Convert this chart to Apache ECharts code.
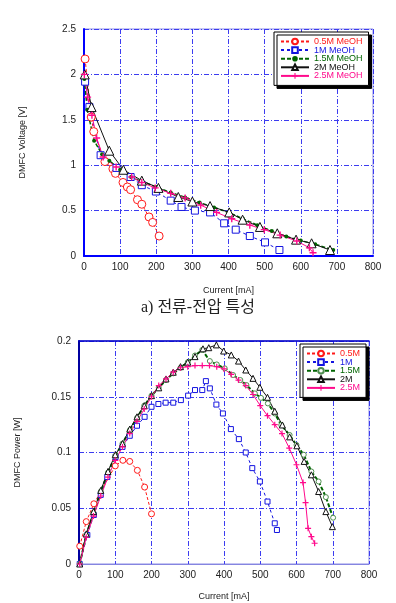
<!DOCTYPE html>
<html>
<head>
<meta charset="utf-8">
<script src="https://cdn.jsdelivr.net/npm/echarts@6/dist/echarts.min.js"></script>
<style>html,body{margin:0;padding:0;background:#fff;}#c{width:396px;height:603px;}</style>
</head>
<body>
<div id="c"></div>
<script>
// ---- Tick settings ----
const xTicks = { min: 0, max: 800, interval: 100 };
const vTicks = { min: 0, max: 2.5, interval: 0.5 };
const pTicks = { min: 0, max: 0.2, interval: 0.05 };

// ---- Names ----
const seriesNamesV = ['0.5M MeOH', '1M MeOH', '1.5M MeOH', '2M MeOH', '2.5M MeOH'];
const seriesNamesP = ['0.5M', '1M', '1.5M', '2M', '2.5M'];

// ---- (a) Current [mA] vs DMFC Voltage [V] ----
const iv05 = [[3,2.17],[20,1.53],[27,1.37],[58,1.04],[80,0.96],[87,0.91],[108,0.81],[120,0.76],[129,0.73],[148,0.62],[160,0.57],[180,0.43],[190,0.37],[208,0.22]];
const iv1  = [[3,1.92],[15,1.64],[46,1.11],[90,0.97],[129,0.87],[160,0.78],[199,0.71],[240,0.61],[270,0.54],[307,0.50],[349,0.48],[388,0.36],[420,0.29],[459,0.22],[501,0.15],[541,0.066]];
const iv15 = [[1,1.95],[9,1.61],[28,1.27],[50,1.12],[70,1.05],[100,0.95],[130,0.87],[160,0.82],[200,0.76],[240,0.70],[280,0.645],[320,0.59],[360,0.535],[400,0.48],[440,0.41],[480,0.34],[520,0.275],[560,0.215],[600,0.17],[640,0.13],[690,0.065]];
const iv2  = [[2,2.0],[21,1.64],[70,1.16],[109,0.95],[160,0.83],[206,0.75],[261,0.65],[300,0.60],[349,0.55],[402,0.48],[439,0.40],[487,0.32],[535,0.25],[587,0.18],[630,0.14],[681,0.066]];
const iv25 = [[1,2.0],[10,1.75],[22,1.55],[35,1.3],[53,1.09],[89,0.98],[132,0.87],[160,0.81],[197,0.75],[240,0.69],[280,0.64],[323,0.56],[367,0.48],[409,0.41],[459,0.34],[499,0.29],[543,0.23],[589,0.165],[624,0.09],[634,0.035]];

// ---- (b) Current [mA] vs DMFC Power [W] ----
const p05 = [[2,0.016],[20,0.038],[41,0.054],[100,0.088],[121,0.093],[140,0.092],[161,0.084],[181,0.069],[200,0.045]];
const p1  = [[2,0],[23,0.026],[41,0.044],[60,0.062],[78,0.078],[101,0.096],[120,0.105],[140,0.115],[160,0.124],[181,0.132],[200,0.141],[219,0.1435],[239,0.1447],[260,0.1447],[281,0.147],[301,0.151],[320,0.156],[340,0.156],[350,0.164],[361,0.1575],[379,0.143],[397,0.135],[419,0.121],[441,0.112],[460,0.100],[478,0.086],[499,0.074],[520,0.056],[540,0.0365],[546,0.0305]];
const p15 = [[2,0],[20,0.026],[40,0.046],[60,0.065],[80,0.082],[100,0.097],[120,0.108],[140,0.12],[160,0.131],[180,0.142],[200,0.151],[220,0.158],[240,0.165],[260,0.171],[280,0.176],[300,0.181],[320,0.187],[340,0.192],[361,0.182],[380,0.179],[402,0.1755],[425,0.1695],[445,0.165],[462,0.1605],[485,0.153],[502,0.149],[521,0.144],[540,0.135],[558,0.1247],[581,0.1157],[600,0.1067],[620,0.098],[641,0.083],[661,0.074],[681,0.060],[701,0.0415]];
const p2  = [[2,0],[20,0.027],[40,0.047],[60,0.066],[80,0.083],[100,0.098],[120,0.108],[140,0.121],[160,0.132],[180,0.142],[200,0.151],[220,0.158],[240,0.166],[260,0.172],[280,0.177],[300,0.181],[320,0.186],[342,0.193],[358,0.194],[379,0.1965],[399,0.191],[420,0.1875],[440,0.182],[460,0.174],[480,0.1665],[499,0.1585],[520,0.1495],[540,0.137],[561,0.1247],[581,0.114],[601,0.106],[621,0.092],[641,0.080],[661,0.065],[681,0.047],[699,0.0335]];
const p25 = [[2,0],[20,0.024],[40,0.043],[60,0.061],[80,0.078],[100,0.093],[120,0.105],[140,0.117],[160,0.128],[180,0.139],[200,0.150],[220,0.160],[240,0.166],[260,0.172],[280,0.176],[300,0.177],[320,0.178],[340,0.178],[360,0.178],[380,0.177],[400,0.175],[420,0.170],[440,0.165],[460,0.160],[480,0.152],[500,0.142],[520,0.133],[540,0.125],[560,0.117],[580,0.104],[600,0.089],[618,0.073],[625,0.055],[632,0.032],[641,0.0245],[650,0.0186]];

const caption = 'a) 전류-전압 특성';

// ---- styles ----
const RED = '#ff1a1a', BLUE = '#1414e0', GREEN = '#006400', BLACK = '#111', PINK = '#ff0a8c';
const PLUS = 'path://M4,0H6V4H10V6H6V10H4V6H0V4H4Z';
const FONT = "'Liberation Sans', Arial, sans-serif";

// hollow = outline-only marker drawn with a 1px border
function mk(name, data, gi, color, symbol, size, lineType, lineWidth, hollow, symColor) {
  const sc = symColor || color;
  return {
    name: name, type: 'line', xAxisIndex: gi, yAxisIndex: gi, data: data,
    symbol: symbol, symbolSize: size, showSymbol: true, symbolKeepAspect: true,
    lineStyle: { color: color, width: lineWidth, type: lineType },
    itemStyle: hollow ? { color: '#fff', borderColor: sc, borderWidth: 1 } : { color: sc, borderWidth: 0 },
    emphasis: { disabled: true }, z: 3
  };
}

const series = [
  mk(seriesNamesV[0], iv05, 0, RED, 'circle', 8, [3, 2], 1, true),
  mk(seriesNamesV[1], iv1, 0, BLUE, 'rect', 7, [3, 3], 1, true),
  mk(seriesNamesV[2], iv15, 0, GREEN, 'circle', 4, [4, 2], 1.5, false),
  mk(seriesNamesV[3], iv2, 0, BLACK, 'triangle', 9, 'solid', 1, true),
  mk(seriesNamesV[4], iv25, 0, PINK, PLUS, 7, 'solid', 1, false),
  mk(seriesNamesP[0], p05, 1, RED, 'circle', 6, [3, 2], 1, true),
  mk(seriesNamesP[1], p1, 1, BLUE, 'rect', 5, [3, 3], 1, true),
  mk(seriesNamesP[2], p15, 1, GREEN, 'circle', 5, [4, 2], 2, true, '#4f8f4f'),
  mk(seriesNamesP[3], p2, 1, BLACK, 'triangle', 6, 'solid', 1, true),
  mk(seriesNamesP[4], p25, 1, PINK, PLUS, 6, 'solid', 1, false)
];

const colorsText = [RED, BLUE, GREEN, BLACK, PINK];

function xAx(gi, axisColor, axisWidth, nameGap) {
  return {
    gridIndex: gi, type: 'value', min: xTicks.min, max: xTicks.max, interval: xTicks.interval,
    axisLine: { show: true, onZero: false, lineStyle: { color: axisColor, width: axisWidth } },
    axisTick: { show: false },
    axisLabel: { color: '#222', fontSize: 10, margin: 6, fontFamily: FONT },
    splitLine: { show: true, lineStyle: { color: '#3c3cf0', type: [5, 2, 1, 2], width: 1 } },
    name: 'Current [mA]', nameLocation: 'middle', nameGap: nameGap,
    nameTextStyle: { fontSize: 9, color: '#222', fontFamily: FONT }
  };
}
function yAx(gi, t, axisColor, axisWidth, name, nameGap) {
  return {
    gridIndex: gi, type: 'value', min: t.min, max: t.max, interval: t.interval,
    axisLine: { show: true, onZero: false, lineStyle: { color: axisColor, width: axisWidth } },
    axisTick: { show: false },
    axisLabel: { color: '#222', fontSize: 10, margin: 8, fontFamily: FONT },
    splitLine: { show: true, lineStyle: { color: '#3c3cf0', type: [5, 2, 1, 2], width: 1 } },
    name: name, nameLocation: 'middle', nameGap: nameGap,
    nameTextStyle: { fontSize: 9, color: '#222', fontFamily: FONT }
  };
}

function legendAt(left, top, names) {
  return {
    left: left, top: top, orient: 'vertical', padding: [5, 6, 5, 6],
    itemWidth: 28, itemHeight: 7, itemGap: -0.4,
    backgroundColor: '#fff', borderColor: '#000', borderWidth: 1, borderRadius: 0,
    shadowColor: '#000', shadowOffsetX: 3, shadowOffsetY: 3, shadowBlur: 0,
    textStyle: { fontSize: 9, fontFamily: FONT },
    selectedMode: false,
    data: names.map((n, i) => ({ name: n, textStyle: { color: colorsText[i] } }))
  };
}

const option = {
  animation: false,
  backgroundColor: '#fff',
  textStyle: { fontFamily: FONT },
  grid: [
    { left: 84, top: 29, width: 289, height: 227, show: true, borderColor: '#8c8ce6', borderWidth: 1 },
    { left: 79, top: 341, width: 290, height: 223, show: true, borderColor: '#8c8ce6', borderWidth: 1 }
  ],
  xAxis: [
    xAx(0, '#0000ff', 2, 30),
    xAx(1, '#8585e0', 1, 28),
    { gridIndex: 1, type: 'value', position: 'top', min: xTicks.min, max: xTicks.max, interval: xTicks.interval,
      axisLine: { show: true, onZero: false, lineStyle: { color: '#0000c8', width: 1.5 } },
      axisTick: { show: false }, axisLabel: { show: false }, splitLine: { show: false } }
  ],
  yAxis: [
    yAx(0, vTicks, '#0000ff', 2, 'DMFC Voltage [V]', 57),
    yAx(1, pTicks, '#0000a0', 2, 'DMFC Power [W]', 57)
  ],
  legend: [
    legendAt(274, 32, seriesNamesV),
    legendAt(300, 344, seriesNamesP)
  ],
  graphic: [
    { type: 'text', left: 'center', top: 300,
      style: { text: caption, fontSize: 16, fill: '#222', fontFamily: "'Liberation Serif', 'Noto Sans CJK KR', serif" } }
  ],
  series: series
};

const chart = echarts.init(document.getElementById('c'), null, { renderer: 'canvas' });
chart.setOption(option);
</script>
</body>
</html>
